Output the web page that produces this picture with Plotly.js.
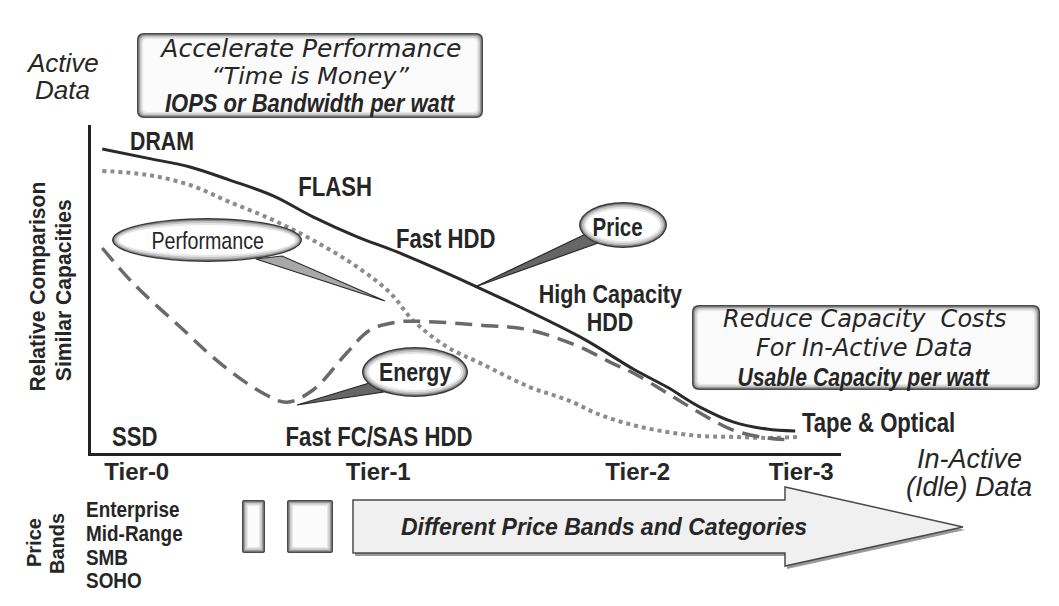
<!DOCTYPE html>
<html>
<head>
<meta charset="utf-8">
<script src="https://cdn.plot.ly/plotly-3.0.1.min.js"></script>
<style>html,body{margin:0;padding:0;background:#fff;}#chart{width:1059px;height:606px;}</style>
</head>
<body>
<div id="chart"></div>
<script>
// ---- data (relative scale 0-100) ----
const tierLabels = ['Tier-0', 'Tier-1', 'Tier-2', 'Tier-3'];
const tierPos = [6.1, 38.3, 72.9, 94.7];

const priceX = [1.5, 7.5, 13.2, 18.5, 24.3, 29.6, 35.5, 40.8, 51.5, 65.2, 72.3, 76.8, 81.2, 85.6, 90.1, 93.9];
const priceY = [92.7, 89.9, 87.2, 83.2, 78.4, 72.0, 65.9, 61.3, 50.6, 35.4, 25.6, 20.1, 14.0, 9.5, 7.3, 6.7];

const perfX = [1.5, 7.5, 13.2, 18.5, 24.3, 29.6, 35.5, 39.9, 42.9, 47.5, 51.9, 58.5, 63.5, 67.9, 72.3, 76.8, 81.2, 85.6, 90.1, 94.5];
const perfY = [86.0, 84.8, 81.7, 76.5, 71.0, 64.9, 56.7, 48.8, 40.5, 32.3, 27.4, 20.1, 16.2, 11.6, 8.5, 6.4, 5.2, 4.9, 4.6, 4.9];

const energyX = [1.5, 5.6, 11.9, 17.2, 22.9, 26.1, 29.6, 34.1, 37.2, 40.8, 42.9, 51.9, 58.5, 65.2, 69.2, 72.3, 76.8, 81.2, 85.6, 90.1, 93.2];
const energyY = [62.5, 51.8, 38.4, 27.4, 18.3, 15.5, 19.2, 30.5, 37.5, 39.9, 40.2, 39.0, 37.5, 32.3, 27.7, 24.4, 18.3, 12.2, 7.0, 4.6, 4.0];

const priceBands = ['Enterprise', 'Mid-Range', 'SMB', 'SOHO'];

// ---- layout helpers (pixel -> paper) ----
const W = 1059, H = 606;
const X = px => px / W;
const Y = py => 1 - py / H;
const ARIAL = '"Liberation Sans", Arial, sans-serif';
const DJ = '"DejaVu Sans", sans-serif';
const INK = '#262626';
const NARROW = 0.82; // horizontal squeeze to imitate a narrow face

function rrPath(x0, y0, x1, y1, r) {
  const p = (x, y) => X(x) + ',' + Y(y);
  return 'M' + p(x0 + r, y0) + ' L' + p(x1 - r, y0) + ' Q' + p(x1, y0) + ' ' + p(x1, y0 + r) +
    ' L' + p(x1, y1 - r) + ' Q' + p(x1, y1) + ' ' + p(x1 - r, y1) +
    ' L' + p(x0 + r, y1) + ' Q' + p(x0, y1) + ' ' + p(x0, y1 - r) +
    ' L' + p(x0, y0 + r) + ' Q' + p(x0, y0) + ' ' + p(x0 + r, y0) + ' Z';
}
function polyPath(pts) {
  return 'M' + pts.map(q => X(q[0]) + ',' + Y(q[1])).join(' L') + ' Z';
}
const shapes = [];
function bevelBox(x0, y0, x1, y1, r) {
  const layers = [['#4a4a4a', 0], ['#9a9a9a', 1.5], ['#c8c8c8', 3], ['#e8e8e8', 4.5], ['#fbfbfb', 6]];
  layers.forEach(l => shapes.push({type: 'path', xref: 'paper', yref: 'paper', layer: 'above',
    path: rrPath(x0 + l[1], y0 + l[1], x1 - l[1], y1 - l[1], Math.max(r - l[1] / 2, 1)),
    fillcolor: l[0], line: {width: 0}}));
}
function bevelEllipse(cx, cy, rx, ry) {
  const layers = [['#3a3a3a', 0], ['#8c8c8c', 1.5], ['#c4c4c4', 3], ['#e6e6e6', 5], ['#ffffff', 7]];
  layers.forEach(l => shapes.push({type: 'circle', xref: 'paper', yref: 'paper', layer: 'above',
    x0: X(cx - rx + l[1]), x1: X(cx + rx - l[1]), y0: Y(cy + ry - l[1]), y1: Y(cy - ry + l[1]),
    fillcolor: l[0], line: {width: 0}}));
}
function tail(pts, fill) {
  shapes.push({type: 'path', xref: 'paper', yref: 'paper', layer: 'above', path: polyPath(pts),
    fillcolor: fill, line: {color: '#2a2a2a', width: 1.2}});
}

// callouts
tail([[256, 259], [282, 256], [385, 301]], '#a8a8a8');
bevelEllipse(207, 240, 95, 22);
tail([[373, 382], [383, 392], [297, 405]], '#666666');
bevelEllipse(415, 372, 53, 25);
tail([[588, 233], [598, 243], [475, 287]], '#666666');
bevelEllipse(623, 225, 44, 23);

// text boxes
bevelBox(137, 33, 483, 118, 7);
bevelBox(692, 305, 1040, 390, 7);

// price-band blocks and arrow
bevelBox(242, 500, 265, 553, 2);
bevelBox(287, 500, 333, 553, 2);
const arrowPts = [[353, 500], [785, 500], [785, 487], [963, 527], [785, 566], [785, 553], [353, 553]];
shapes.push({type: 'path', xref: 'paper', yref: 'paper', layer: 'above',
  path: polyPath(arrowPts.map(q => [q[0] + 2, q[1] + 3])), fillcolor: '#9a9a9a', line: {width: 0}});
shapes.push({type: 'path', xref: 'paper', yref: 'paper', layer: 'above',
  path: polyPath(arrowPts), fillcolor: '#f0f0f0', line: {color: '#4a4a4a', width: 1.5}});

// ---- annotations ----
const annotations = [];
const squeeze = []; // per-annotation horizontal scale
function txt(text, px, py, font, extra, sx) {
  annotations.push(Object.assign({text: text, x: X(px), y: Y(py), xref: 'paper', yref: 'paper',
    xanchor: 'center', yanchor: 'middle', showarrow: false, font: Object.assign({color: INK}, font)}, extra || {}));
  squeeze.push(sx || 1);
}
const nb = s => ({family: ARIAL, size: s, weight: 'bold'});
const nbi = s => ({family: ARIAL, size: s, weight: 'bold', style: 'italic'});

txt('Active', 62, 63, {family: ARIAL, size: 26, style: 'italic'});
txt('Data', 62, 90, {family: ARIAL, size: 26, style: 'italic'});

txt('Accelerate Performance', 310, 49, {family: DJ, size: 24, style: 'italic'}, {}, 1.04);
txt('\u201cTime is Money\u201d', 310, 76, {family: DJ, size: 23, style: 'italic'}, {}, 1.04);
txt('IOPS or Bandwidth per watt', 310, 103, nbi(25), {}, 0.88);

txt('Reduce Capacity  Costs', 864, 319, {family: DJ, size: 24, style: 'italic'});
txt('For In-Active Data', 864, 348, {family: DJ, size: 24, style: 'italic'});
txt('Usable Capacity per watt', 864, 377, nbi(25), {}, 0.85);

txt('DRAM', 162, 141, nb(26), {}, NARROW);
txt('FLASH', 335, 187, nb(27), {}, NARROW);
txt('Fast HDD', 446, 239, nb(27), {}, NARROW);
txt('High Capacity', 610, 294, nb(25), {}, 0.86);
txt('HDD', 610, 322, nb(25), {}, 0.86);
txt('Tape &amp; Optical', 878, 423, nb(27), {}, NARROW);
txt('SSD', 135, 437, nb(27), {}, NARROW);
txt('Fast FC/SAS HDD', 379, 437, nb(27), {}, NARROW);

txt('Performance', 207, 240, {family: ARIAL, size: 24}, {}, NARROW);
txt('Energy', 415, 372, nb(26), {}, NARROW);
txt('Price', 617, 227, nb(25), {}, NARROW);

txt('Relative Comparison', 37, 287, {family: ARIAL, size: 22, weight: 'bold'}, {textangle: -90}, 0.96);
txt('Similar Capacities', 63, 290, {family: ARIAL, size: 22, weight: 'bold'}, {textangle: -90}, 0.96);

txt('In-Active', 969, 459, {family: ARIAL, size: 27, style: 'italic'});
txt('(Idle) Data', 969, 487, {family: ARIAL, size: 27, style: 'italic'});

txt('Price', 34, 543, {family: ARIAL, size: 20, weight: 'bold'}, {textangle: -90});
txt('Bands', 57, 544, {family: ARIAL, size: 20, weight: 'bold'}, {textangle: -90});
const bandY = [509, 533, 557, 580];
priceBands.forEach((b, i) => txt(b, 84, bandY[i], nb(22), {xanchor: 'left'}, 0.86));

txt('Different Price Bands and Categories', 604, 527, nbi(23));

// ---- traces ----
const traces = [
  {x: priceX, y: priceY, name: 'Price', mode: 'lines', type: 'scatter',
    line: {color: '#2a2a2a', width: 3, shape: 'spline', smoothing: 1}, hoverinfo: 'skip'},
  {x: perfX, y: perfY, name: 'Performance', mode: 'lines', type: 'scatter',
    line: {color: '#8c8c8c', width: 4, dash: 'dot', shape: 'spline', smoothing: 1}, hoverinfo: 'skip'},
  {x: energyX, y: energyY, name: 'Energy', mode: 'lines', type: 'scatter',
    line: {color: '#6a6a6a', width: 3.5, dash: '17px,9px', shape: 'spline', smoothing: 1}, hoverinfo: 'skip'}
];

const layout = {
  width: W, height: H,
  margin: {l: 0, r: 0, t: 0, b: 0},
  paper_bgcolor: '#ffffff', plot_bgcolor: 'rgba(0,0,0,0)',
  showlegend: false,
  xaxis: {domain: [91 / W, 841 / W], range: [0, 100], showgrid: false, zeroline: false,
    showline: true, linecolor: '#222', linewidth: 3, ticks: '', ticklabelstandoff: -5,
    tickvals: tierPos, ticktext: tierLabels, tickfont: {family: ARIAL, size: 24, weight: 'bold', color: INK},
    fixedrange: true},
  yaxis: {domain: [1 - 453 / H, 1 - 125 / H], range: [0, 100], showgrid: false, zeroline: false,
    showline: true, linecolor: '#222', linewidth: 3, showticklabels: false, ticks: '', fixedrange: true},
  shapes: shapes,
  annotations: annotations
};

const gd = document.getElementById('chart');
Plotly.newPlot(gd, traces, layout, {displayModeBar: false, staticPlot: true}).then(() => {
  gd.querySelectorAll('g.annotation').forEach(g => {
    const i = +g.getAttribute('data-index');
    const s = squeeze[i];
    if (!s || s === 1) return;
    const t = g.querySelector('text.annotation-text');
    if (!t) return;
    const bb = t.getBBox();
    const cx = annotations[i].xanchor === 'left' ? bb.x : bb.x + bb.width / 2;
    const prev = t.getAttribute('transform') || '';
    t.setAttribute('transform', prev + ' translate(' + cx + ',0) scale(' + s + ',1) translate(' + (-cx) + ',0)');
  });
});
</script>
</body>
</html>
